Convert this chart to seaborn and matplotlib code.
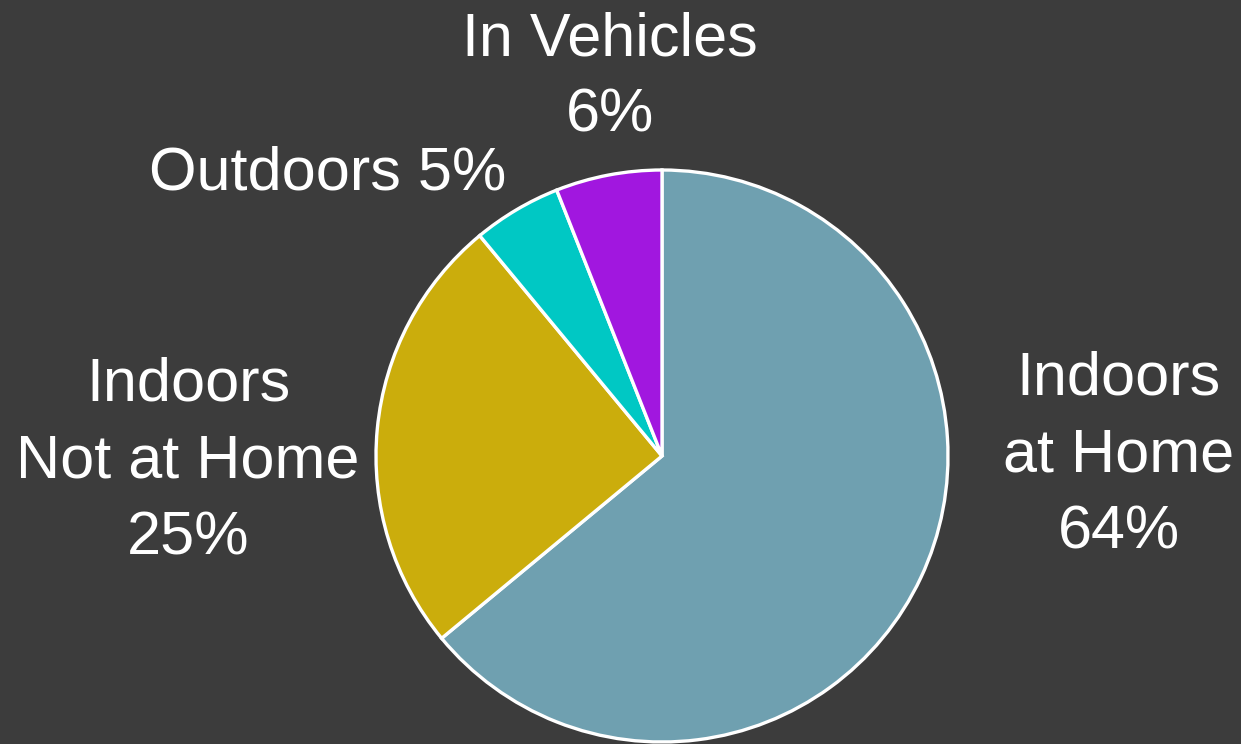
import matplotlib
matplotlib.use("Agg")
import matplotlib.pyplot as plt
import seaborn as sns

# Share of time spent by location
categories = ["Indoors\nat Home", "Indoors\nNot at Home", "Outdoors", "In Vehicles"]
shares = [64, 25, 5, 6]
colors = ["#6fa0b0", "#cbad0c", "#00c8c4", "#a117df"]

BG = "#3c3c3c"

sns.set_theme(style="white")
plt.rcParams["font.family"] = ["Liberation Sans", "DejaVu Sans"]

fig = plt.figure(figsize=(12.41, 7.44), dpi=100, facecolor=BG)
ax = fig.add_axes([0, 0, 1, 1])
ax.set_facecolor(BG)

palette = sns.color_palette(colors)
ax.pie(
    shares,
    colors=palette,
    startangle=90,
    counterclock=False,
    radius=1.0,
    wedgeprops=dict(edgecolor="white", linewidth=2.4),
)

# axes span the whole figure; pie centred at (662, 456) px, radius 286 px
ax.set_xlim(-662 / 286, (1241 - 662) / 286)
ax.set_ylim(-(744 - 456) / 286, 456 / 286)
ax.set_aspect("equal")
ax.axis("off")

# label anchors (data units, pie radius = 1)
label_pos = [(1.596, 0.0), (-1.657, -0.021), (-1.168, 0.985), (-0.182, 1.322)]
label_sep = ["\n", "\n", " ", "\n"]

for name, val, (x, y), sep in zip(categories, shares, label_pos, label_sep):
    ax.text(x, y, f"{name}{sep}{val}%", ha="center", va="center",
            multialignment="center", color="white", fontsize=44,
            linespacing=1.45)

fig.savefig("out.png", dpi=100, facecolor=BG)
